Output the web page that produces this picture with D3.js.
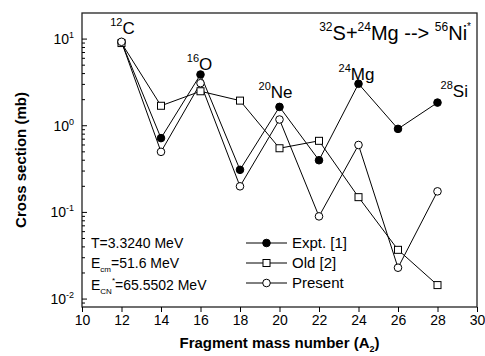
<!DOCTYPE html>
<html>
<head>
<meta charset="utf-8">
<script src="https://cdn.jsdelivr.net/npm/d3@7"></script>
<style>
  body { margin: 0; background: #fff; }
  svg { display: block; font-family: "Liberation Sans", Arial, sans-serif; }
</style>
</head>
<body>
<div id="chart"></div>
<script>
// fragment mass numbers
const masses = [12, 14, 16, 18, 20, 22, 24, 26, 28]
const expt = [9.2, 0.72, 3.9, 0.31, 1.65, 0.40, 3.05, 0.92, 1.85]
const old = [9.0, 1.70, 2.5, 1.95, 0.55, 0.67, 0.15, 0.037, 0.0145]
const present = [9.3, 0.50, 3.1, 0.20, 1.18, 0.09, 0.60, 0.023, 0.175]

const xTicks = [10, 12, 14, 16, 18, 20, 22, 24, 26, 28, 30]
const yTicks = [0.01, 0.1, 1, 10]
const yExp = ["-2", "-1", "0", "1"]

// element labels: superscript, symbol, x position, y position (data units)
const elements = [
    ["12", "C", 12.05, 11.4],
    ["16", "O", 15.95, 4.4],
    ["20", "Ne", 19.8, 2.1],
    ["24", "Mg", 23.9, 3.4],
    ["28", "Si", 28.85, 2.15]
]

const seriesNames = ["Expt. [1]", "Old [2]", "Present"]

const width = 485
const height = 356
const margin = ({ top: 13, right: 8, bottom: 49, left: 82 })

const x = d3.scaleLinear()
    .domain([10, 30])
    .range([margin.left, width - margin.right])

const y = d3.scaleLog()
    .domain([0.0081, 20])
    .range([height - margin.bottom, margin.top])

const svg = d3.select("#chart")
    .append("svg")
    .attr("width", width)
    .attr("height", height)

// frame
svg.append("rect")
    .attr("x", margin.left)
    .attr("y", margin.top)
    .attr("width", width - margin.left - margin.right)
    .attr("height", height - margin.top - margin.bottom)
    .attr("fill", "none")
    .attr("stroke", "#222")
    .attr("stroke-width", 1.3)

// x axis
const xAxis = svg.append("g")
    .attr("transform", `translate(0,${height - margin.bottom})`)
    .call(d3.axisBottom(x).tickValues(xTicks).tickSize(5).tickPadding(3))
xAxis.select(".domain").remove()
xAxis.selectAll("text")
    .attr("font-size", 14)
    .attr("font-family", "Liberation Sans, Arial, sans-serif")
    .attr("fill", "#000")

// y axis: minor ticks inside
const minor = []
for (let e = -3; e <= 1; e++) {
    for (let k = 2; k <= 9; k++) {
        const v = k * Math.pow(10, e)
        if (v > y.domain()[0] && v < y.domain()[1]) minor.push(v)
    }
}
svg.append("g")
    .selectAll("line")
    .data(minor)
    .join("line")
    .attr("x1", margin.left)
    .attr("x2", margin.left + 3)
    .attr("y1", d => y(d))
    .attr("y2", d => y(d))
    .attr("stroke", "#000")

svg.append("g")
    .selectAll("line")
    .data(yTicks)
    .join("line")
    .attr("x1", margin.left)
    .attr("x2", margin.left + 5)
    .attr("y1", d => y(d))
    .attr("y2", d => y(d))
    .attr("stroke", "#000")

const yLab = svg.append("g")
    .selectAll("text")
    .data(yTicks)
    .join("text")
    .attr("x", margin.left - 8)
    .attr("y", d => y(d) + 5)
    .attr("text-anchor", "end")
    .attr("font-size", 14)
yLab.append("tspan").text("10")
yLab.append("tspan")
    .attr("dy", -6)
    .attr("font-size", 9)
    .text((d, i) => yExp[i])

// lines and markers
const line = d3.line()
    .x((d, i) => x(masses[i]))
    .y(d => y(d))

const series = [
    { name: seriesNames[0], values: expt, shape: "filled" },
    { name: seriesNames[1], values: old, shape: "square" },
    { name: seriesNames[2], values: present, shape: "open" }
]

series.forEach(s => {
    svg.append("path")
        .datum(s.values)
        .attr("fill", "none")
        .attr("stroke", "#000")
        .attr("stroke-width", 1)
        .attr("d", line)
})

function marker(g, shape, cx, cy) {
    if (shape === "square") {
        g.append("rect")
            .attr("x", cx - 3.5).attr("y", cy - 3.5)
            .attr("width", 7).attr("height", 7)
            .attr("fill", "#fff").attr("stroke", "#000")
    } else {
        g.append("circle")
            .attr("cx", cx).attr("cy", cy).attr("r", 3.8)
            .attr("fill", shape === "filled" ? "#000" : "#fff")
            .attr("stroke", "#000")
    }
}

series.forEach(s => {
    const g = svg.append("g")
    s.values.forEach((v, i) => marker(g, s.shape, x(masses[i]), y(v)))
})

// element labels
elements.forEach(([sup, sym, ex, ey]) => {
    const t = svg.append("text")
        .attr("x", x(ex))
        .attr("y", y(ey))
        .attr("text-anchor", "middle")
        .attr("font-size", 17)
    t.append("tspan").attr("font-size", 11).attr("dy", -8).text(sup)
    t.append("tspan").attr("dy", 8).text(sym)
})

// reaction title
const title = svg.append("text")
    .attr("x", width - margin.right - 6)
    .attr("y", 40)
    .attr("text-anchor", "end")
    .attr("font-size", 20)
title.append("tspan").attr("font-size", 12).attr("dy", -9).text("32")
title.append("tspan").attr("dy", 9).text("S+")
title.append("tspan").attr("font-size", 12).attr("dy", -9).text("24")
title.append("tspan").attr("dy", 9).text("Mg --> ")
title.append("tspan").attr("font-size", 12).attr("dy", -9).text("56")
title.append("tspan").attr("dy", 9).text("Ni")
title.append("tspan").attr("font-size", 10).attr("dy", -10).text("*")

// parameters box
const info = svg.append("g").attr("font-size", 14)
info.append("text").attr("x", 91).attr("y", 248).text("T=3.3240 MeV")
const ecm = info.append("text").attr("x", 91).attr("y", 268)
ecm.append("tspan").text("E")
ecm.append("tspan").attr("font-size", 8).attr("dy", 4).text("cm")
ecm.append("tspan").attr("dy", -4).text("=51.6 MeV")
const ecn = info.append("text").attr("x", 91).attr("y", 290)
ecn.append("tspan").text("E")
ecn.append("tspan").attr("font-size", 8).attr("dy", 4).text("CN")
ecn.append("tspan").attr("font-size", 8).attr("dy", -11).text("*")
ecn.append("tspan").attr("dy", 7).text("=65.5502 MeV")

// legend
const legend = svg.append("g")
series.forEach((s, i) => {
    const ly = 248 + i * 20
    legend.append("line")
        .attr("x1", 246).attr("x2", 287)
        .attr("y1", ly - 5).attr("y2", ly - 5)
        .attr("stroke", "#000")
    marker(legend, s.shape, 266.5, ly - 5)
    legend.append("text")
        .attr("x", 292).attr("y", ly)
        .attr("font-size", 15)
        .text(s.name)
})

// axis titles
const xt = svg.append("text")
    .attr("x", (margin.left + width - margin.right) / 2)
    .attr("y", 348)
    .attr("text-anchor", "middle")
    .attr("font-size", 15)
    .attr("font-weight", "bold")
xt.append("tspan").text("Fragment mass number (A")
xt.append("tspan").attr("font-size", 9).attr("dy", 4).text("2")
xt.append("tspan").attr("dy", -4).text(")")

svg.append("text")
    .attr("transform", `translate(26,${(margin.top + height - margin.bottom) / 2}) rotate(-90)`)
    .attr("text-anchor", "middle")
    .attr("font-size", 15)
    .attr("font-weight", "bold")
    .text("Cross section (mb)")
</script>
</body>
</html>
